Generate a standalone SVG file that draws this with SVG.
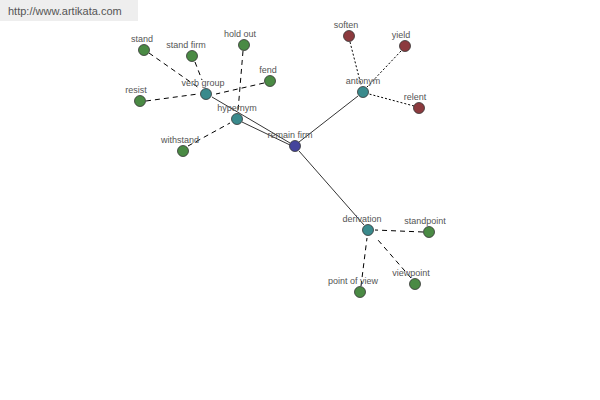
<svg xmlns="http://www.w3.org/2000/svg" width="600" height="400" viewBox="0 0 600 400">
<style>
text{font-family:"Liberation Sans",Arial,sans-serif;font-size:9px;fill:#555;text-anchor:middle}
.n{stroke:#333;stroke-width:0.8}
.g{fill:#4a8a44}.t{fill:#3a8a8c}.r{fill:#8c3a3e}.b{fill:#44449c}
.s{stroke:#000;stroke-width:0.8;fill:none}
.d{stroke:#000;stroke-width:1;stroke-dasharray:5,4;fill:none}
.o{stroke:#000;stroke-width:1;stroke-dasharray:2,2;fill:none}
</style>
<rect x="0" y="0" width="138" height="21" fill="#eeeeee"/>
<text x="8" y="15" style="font-size:11px;text-anchor:start;fill:#555">http://www.artikata.com</text>
<g id="connectors">
<line class="s" x1="290" y1="143" x2="212" y2="97"/>
<line class="s" x1="290" y1="145" x2="242" y2="122"/>
<line class="s" x1="299" y1="142" x2="358" y2="96"/>
<line class="s" x1="299" y1="151" x2="364" y2="225"/>
<line class="d" x1="149" y1="53" x2="199" y2="88"/>
<line class="d" x1="195" y1="62" x2="202" y2="80"/>
<line class="d" x1="146" y1="101" x2="198" y2="94"/>
<line class="d" x1="264" y1="83" x2="216" y2="94"/>
<line class="d" x1="243" y1="51" x2="238" y2="111"/>
<line class="d" x1="188" y1="146" x2="230" y2="123"/>
<line class="o" x1="350" y1="42" x2="361" y2="85"/>
<line class="o" x1="401" y1="51" x2="367" y2="87"/>
<line class="o" x1="414" y1="106" x2="369" y2="94"/>
<line class="d" x1="423" y1="232" x2="375" y2="230"/>
<line class="d" x1="361" y1="286" x2="367" y2="238"/>
<line class="d" x1="411" y1="278" x2="378" y2="240"/>
</g>
<g id="remain-firm"><circle class="n b" cx="295" cy="146" r="5.5"/><text x="290" y="138">remain firm</text></g>
<g id="verb-group"><circle class="n t" cx="206" cy="94" r="5.5"/><text x="203" y="86">verb group</text></g>
<g id="hypernym"><circle class="n t" cx="237" cy="119" r="5.5"/><text x="237" y="111">hypernym</text></g>
<g id="antonym"><circle class="n t" cx="363" cy="92" r="5.5"/><text x="363" y="84">antonym</text></g>
<g id="derivation"><circle class="n t" cx="368" cy="230" r="5.5"/><text x="362" y="222">derivation</text></g>
<g id="stand"><circle class="n g" cx="144" cy="50" r="5.5"/><text x="142" y="42">stand</text></g>
<g id="stand-firm"><circle class="n g" cx="192" cy="56" r="5.5"/><text x="186" y="48">stand firm</text></g>
<g id="hold-out"><circle class="n g" cx="244" cy="45" r="5.5"/><text x="240" y="37">hold out</text></g>
<g id="fend"><circle class="n g" cx="270" cy="81" r="5.5"/><text x="268" y="73">fend</text></g>
<g id="resist"><circle class="n g" cx="140" cy="101" r="5.5"/><text x="136" y="93">resist</text></g>
<g id="withstand"><circle class="n g" cx="183" cy="151" r="5.5"/><text x="180" y="143">withstand</text></g>
<g id="soften"><circle class="n r" cx="349" cy="36" r="5.5"/><text x="346" y="28">soften</text></g>
<g id="yield"><circle class="n r" cx="405" cy="46" r="5.5"/><text x="401" y="38">yield</text></g>
<g id="relent"><circle class="n r" cx="419" cy="108" r="5.5"/><text x="415" y="100">relent</text></g>
<g id="standpoint"><circle class="n g" cx="429" cy="232" r="5.5"/><text x="425" y="224">standpoint</text></g>
<g id="point-of-view"><circle class="n g" cx="360" cy="292" r="5.5"/><text x="353" y="284">point of view</text></g>
<g id="viewpoint"><circle class="n g" cx="415" cy="284" r="5.5"/><text x="411" y="276">viewpoint</text></g>
</svg>
